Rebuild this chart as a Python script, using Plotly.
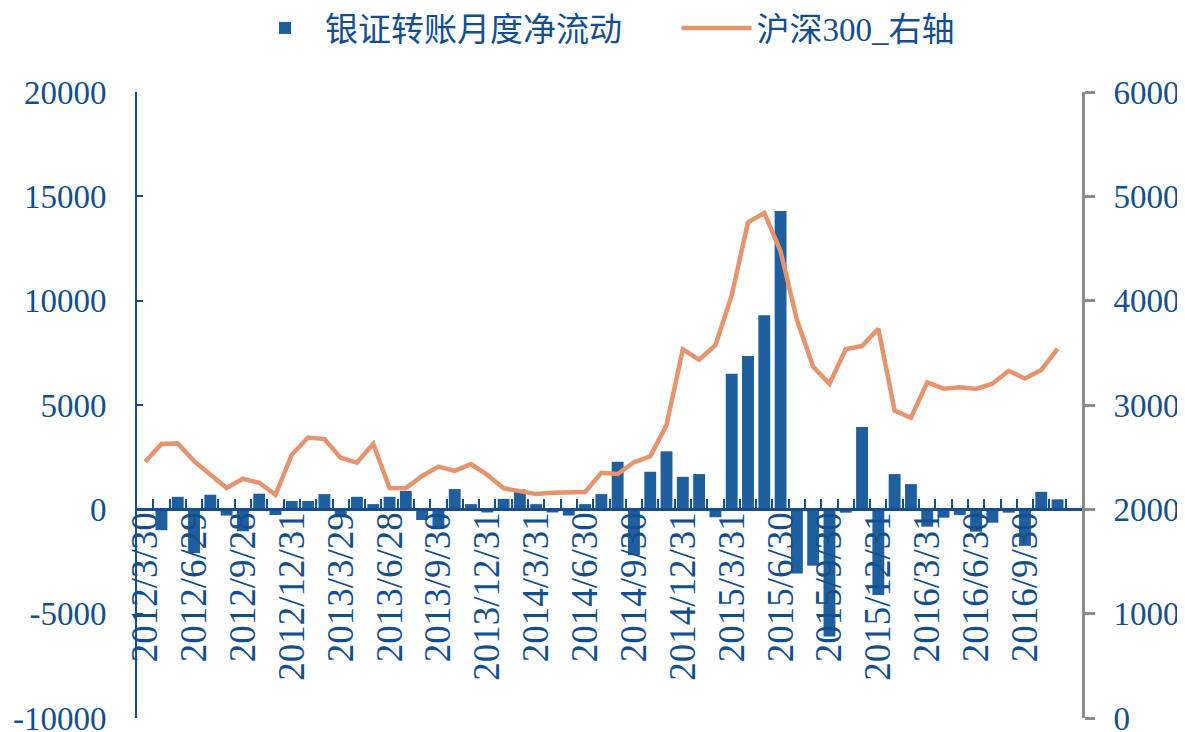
import plotly.graph_objects as go

# month-end dates, 2012/3 .. 2016/11
dates = [
    "2012/3/30", "2012/4/27", "2012/5/31", "2012/6/29", "2012/7/31", "2012/8/31",
    "2012/9/28", "2012/10/31", "2012/11/30", "2012/12/31", "2013/1/31", "2013/2/28",
    "2013/3/29", "2013/4/26", "2013/5/31", "2013/6/28", "2013/7/31", "2013/8/30",
    "2013/9/30", "2013/10/31", "2013/11/29", "2013/12/31", "2014/1/30", "2014/2/28",
    "2014/3/31", "2014/4/30", "2014/5/30", "2014/6/30", "2014/7/31", "2014/8/29",
    "2014/9/30", "2014/10/31", "2014/11/28", "2014/12/31", "2015/1/30", "2015/2/27",
    "2015/3/31", "2015/4/30", "2015/5/29", "2015/6/30", "2015/7/31", "2015/8/31",
    "2015/9/30", "2015/10/30", "2015/11/30", "2015/12/31", "2016/1/29", "2016/2/29",
    "2016/3/31", "2016/4/29", "2016/5/31", "2016/6/30", "2016/7/29", "2016/8/31",
    "2016/9/30", "2016/10/31", "2016/11/30",
]

# 银证转账月度净流动 (left axis)
net_flow = [
    0, -1000, 600, -2100, 700, -300,
    -1050, 750, -270, 400, 400, 730,
    -380, 600, 250, 600, 880, -510,
    -860, 970, 250, -150, 500, 950,
    250, -150, -300, 250, 730, 2280,
    -2200, 1800, 2780, 1560, 1690, -380,
    6500, 7350, 9300, 14300, -3070, -2700,
    -6100, -160, 3950, -4100, 1690, 1210,
    -830, -400, -270, -1070, -640, -160,
    -1750, 840, 480,
]

# 沪深300 (right axis)
csi300 = [
    2455, 2626, 2632, 2462, 2333, 2205,
    2293, 2255, 2140, 2523, 2688, 2673,
    2495, 2448, 2628, 2205, 2203, 2320,
    2409, 2368, 2433, 2330, 2202, 2178,
    2146, 2158, 2161, 2165, 2350, 2339,
    2451, 2508, 2809, 3534, 3434, 3573,
    4051, 4750, 4841, 4473, 3817, 3367,
    3203, 3534, 3566, 3731, 2946, 2878,
    3218, 3157, 3170, 3154, 3204, 3328,
    3253, 3336, 3539,
]

left_ticks = [-10000, -5000, 0, 5000, 10000, 15000, 20000]
right_ticks = [0, 1000, 2000, 3000, 4000, 5000, 6000]

tick_text = [d if i % 3 == 0 else "" for i, d in enumerate(dates)]

BLUE = "#1F5F9E"
ORANGE = "#E6946E"
TXT = "#134F8E"
GREY = "#8C8C8C"
SERIF = "Liberation Serif, Noto Sans CJK SC"

# page body has an 8px margin, so the figure is 8px smaller than the window
W, H = 1177, 724

fig = go.Figure()
fig.add_trace(go.Bar(x=dates, y=net_flow, name="银证转账月度净流动" + "\u00a0" * 6,
                     marker=dict(color=BLUE, line=dict(width=0))))
fig.add_trace(go.Scatter(x=dates, y=csi300, name="沪深300_右轴", yaxis="y2",
                         mode="lines", line=dict(color=ORANGE, width=4.5)))

fig.update_layout(
    width=W, height=H,
    margin=dict(l=129, r=103, t=84, b=14),
    paper_bgcolor="white", plot_bgcolor="white",
    bargap=0.27,
    font=dict(family=SERIF, color=TXT),
    legend=dict(orientation="h", x=0.4926, xanchor="center",
                yref="container", y=1 - 20 / H, yanchor="middle",
                font=dict(size=33, color=TXT, family=SERIF), itemwidth=70,
                bgcolor="rgba(0,0,0,0)"),
    xaxis=dict(type="category", range=[-0.5, 57.5], anchor="free", position=1 / 3,
               tickvals=dates, ticktext=tick_text, tickson="boundaries",
               ticks="inside", ticklen=9, tickwidth=2, tickcolor=TXT,
               showline=True, linecolor=TXT, linewidth=3, showgrid=False,
               automargin=False, ticklabelstandoff=-14,
               tickangle=-90, tickfont=dict(size=37, color=TXT, family=SERIF)),
    yaxis=dict(range=[-10000, 20000], tickvals=left_ticks,
               ticktext=[str(v) for v in left_ticks],
               showgrid=False, zeroline=False, automargin=False,
               ticklabeloverflow="allow",
               showline=True, linecolor=TXT, linewidth=2,
               ticks="inside", ticklen=6, tickwidth=2, tickcolor=TXT,
               ticklabelstandoff=22,
               tickfont=dict(size=33, color=TXT, family=SERIF)),
    yaxis2=dict(range=[0, 6000], tickvals=right_ticks,
                ticktext=[str(v) for v in right_ticks],
                overlaying="y", side="right",
                showgrid=False, zeroline=False, automargin=False,
                ticklabeloverflow="allow",
                showline=True, linecolor=GREY, linewidth=3,
                ticks="outside", ticklen=10, tickwidth=3, tickcolor=GREY,
                ticklabelstandoff=12,
                tickfont=dict(size=33, color=TXT, family=SERIF)),
)

fig.write_html("out.html")
